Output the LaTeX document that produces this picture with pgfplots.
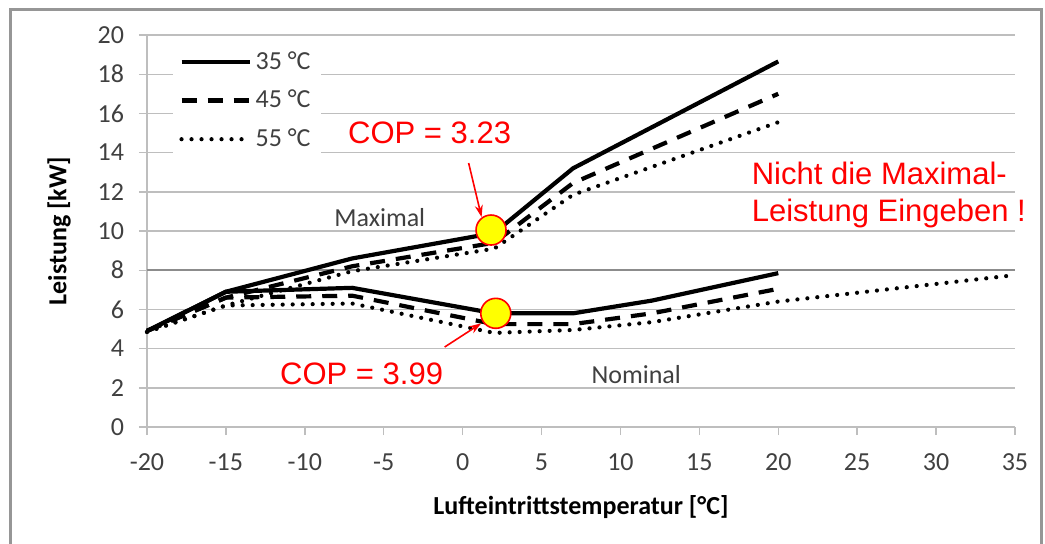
\documentclass[border=0pt]{standalone}
\usepackage{pgfplots}
\pgfplotsset{compat=1.18}
\usepackage{fontspec}
\setmainfont{Carlito}
\newfontfamily\arialfont{Liberation Sans}
\usetikzlibrary{arrows.meta}

\definecolor{gridgray}{RGB}{190,190,190}
\definecolor{darkgrid}{RGB}{140,140,140}
\definecolor{framegray}{RGB}{150,150,150}
\definecolor{txtgray}{RGB}{64,64,64}
\definecolor{copred}{RGB}{255,0,0}
\definecolor{dotyellow}{RGB}{255,255,0}

\begin{document}
\begin{tikzpicture}
\useasboundingbox (0,0) rectangle (522.5pt,271.5pt);
\draw[framegray, line width=1.5pt] (5pt,-20pt) rectangle (520.5pt,267pt);
\begin{axis}[
  at={(73.5pt,58pt)}, anchor=south west,
  scale only axis, width=434pt, height=196pt,
  xmin=-20, xmax=35, ymin=0, ymax=20,
  xtick={-20,-15,...,35}, ytick={0,2,...,20},
  axis lines*=left,
  axis line style={gridgray, line width=0.8pt},
  ymajorgrids, grid style={gridgray, line width=0.7pt},
  tick align=outside, major tick length=4pt,
  tick style={gridgray, line width=0.7pt},
  extra y ticks={8}, extra y tick labels={},
  extra y tick style={grid style={darkgrid, line width=1.2pt}},
  ticklabel style={font=\fontsize{13}{15}\selectfont, text=txtgray},
  /pgf/number format/assume math mode=true,
  xticklabel style={yshift=-6pt},
  yticklabel style={xshift=-4pt},
  xlabel={Lufteintrittstemperatur [°C]},
  ylabel={Leistung [kW]},
  label style={font=\bfseries\fontsize{13}{15}\selectfont, text=black},
  xlabel style={at={(axis description cs:0.5,-0.204)}, anchor=center},
  ylabel style={at={(axis description cs:0,0.5)}, anchor=center, yshift=44pt},
  legend style={draw=none, fill=white, at={(axis description cs:0.03,0.985)},
    anchor=north west, font=\fontsize{13}{15}\selectfont, text=txtgray,
    row sep=5pt, inner sep=3pt},
  legend cell align=left,
  legend image code/.code={\draw[#1] (0pt,0pt) -- (34pt,0pt);},
  clip=false,
]
% maximal
\addplot[black, line width=2.1pt] coordinates {
  (-20,4.9) (-15,6.9) (-7,8.6) (2,9.9) (7,13.2) (20,18.65)};
\addlegendentry{35 °C}
\addplot[black, line width=2.1pt, dash pattern=on 7.5pt off 5.5pt] coordinates {
  (-20,4.9) (-15,6.6) (-7,8.2) (2,9.4) (7,12.45) (20,17.0)};
\addlegendentry{45 °C}
\addplot[black, line width=2.1pt, line cap=round, dash pattern=on 0pt off 5pt] coordinates {
  (-20,4.85) (-15,6.2) (-7,7.95) (2,9.1) (7,11.85) (20,15.55)};
\addlegendentry{55 °C}
% nominal
\addplot[black, line width=2.1pt, forget plot] coordinates {
  (-20,4.9) (-15,6.9) (-7,7.1) (2,5.8) (7,5.8) (12,6.45) (20,7.85)};
\addplot[black, line width=2.1pt, dash pattern=on 7.5pt off 5.5pt, forget plot] coordinates {
  (-20,4.9) (-15,6.6) (-7,6.7) (2,5.25) (7,5.25) (12,5.8) (20,7.05)};
\addplot[black, line width=2.1pt, line cap=round, dash pattern=on 0pt off 5pt, forget plot] coordinates {
  (-20,4.85) (-15,6.2) (-7,6.3) (2,4.8) (7,4.95) (12,5.35) (20,6.4) (35,7.75)};
% operating points
\addplot[only marks, mark=*, mark size=7.5pt, forget plot,
  mark options={fill=dotyellow, draw=copred, line width=0.8pt}] coordinates {
  (1.8,10.05) (2.1,5.8)};

\draw[copred, line width=0.8pt, -{Stealth[length=6pt,width=4pt]}]
  (axis cs:0.38,13.47) -- (axis cs:1.2,10.71);
\draw[copred, line width=0.8pt, -{Stealth[length=6pt,width=4pt]}]
  (axis cs:-1.14,4.08) -- (axis cs:1.18,5.29);

\node[copred, font=\arialfont\fontsize{15.5}{17}\selectfont] at (axis cs:-2.09,15.0) {COP = 3.23};
\node[copred, font=\arialfont\fontsize{15.5}{17}\selectfont] at (axis cs:-6.4,2.7) {COP = 3.99};
\node[copred, font=\arialfont\fontsize{15.5}{18.5}\selectfont, anchor=west, align=left, inner sep=0pt]
  at (axis cs:18.3,11.85) {Nicht die Maximal-\\Leistung Eingeben !};
\node[txtgray, font=\fontsize{13}{15}\selectfont] at (axis cs:-5.25,10.7) {Maximal};
\node[txtgray, font=\fontsize{13}{15}\selectfont] at (axis cs:11.0,2.7) {Nominal};
\end{axis}
\end{tikzpicture}
\end{document}
